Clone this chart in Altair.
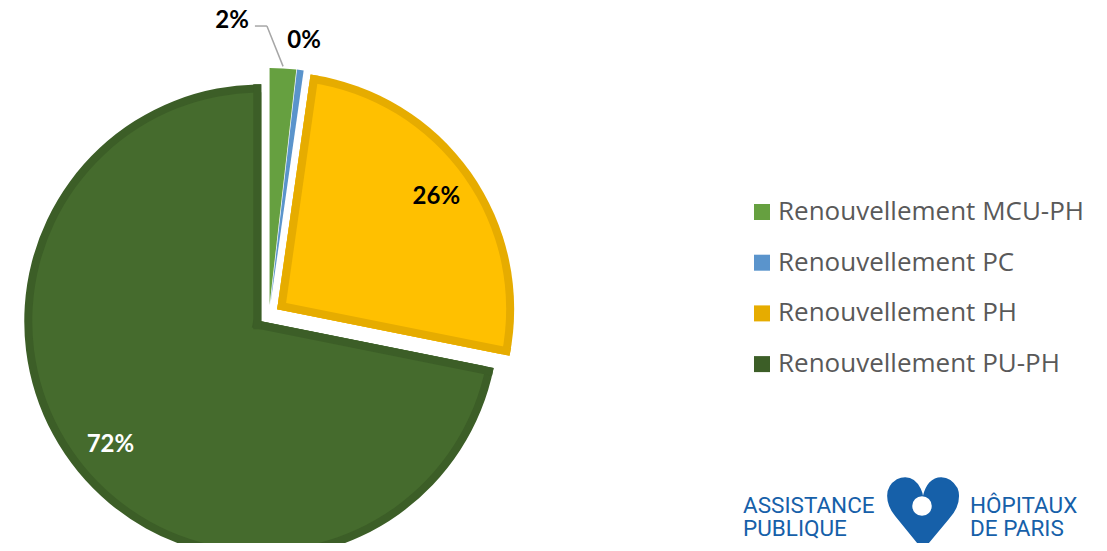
import altair as alt
import pandas as pd

# ---------------- data ----------------
categories = ["Renouvellement MCU-PH", "Renouvellement PC",
              "Renouvellement PH", "Renouvellement PU-PH"]
shares = [1.8, 0.45, 25.9, 71.85]          # percent
order = [0, 1, 2, 3]
fill_colors = ["#70AD47", "#5B9BD5", "#FFC000", "#456B2D"]
border_colors = ["#66A040", "#5A94CC", "#E6AC00", "#3C5E27"]
logo_left = ["ASSISTANCE", "PUBLIQUE"]
logo_right = ["HÔPITAUX", "DE PARIS"]

df = pd.DataFrame({"cat": categories, "value": shares, "idx": order})

# ---------------- layout constants ----------------
CX, CY = 261, 307      # pie centre (chart px)
EXPLODE = 10
R = 237
W = 8
LABEL_R_IN = 195
LOGO_BLUE = "#1660A9"

base = (
    alt.Chart(df)
    .transform_window(cum="sum(value)", sort=[alt.SortField("idx")], frame=[None, 0])
    .transform_joinaggregate(total="sum(value)")
    .transform_calculate(
        t0="2*PI*(datum.cum - datum.value)/datum.total",
        t1="2*PI*datum.cum/datum.total",
        pct="datum.value/datum.total",
    )
    .transform_calculate(mid="(datum.t0 + datum.t1)/2", span="datum.t1 - datum.t0")
    .transform_calculate(
        cx=f"{CX} + {EXPLODE}*sin(datum.mid)",
        cy=f"{CY} - {EXPLODE}*cos(datum.mid)",
    )
)

X = alt.X("cx:Q", scale=None, axis=None)
Y = alt.Y("cy:Q", scale=None, axis=None)

outer = base.mark_arc(radius=R).encode(
    x=X, y=Y,
    theta=alt.Theta("t0:Q", scale=None),
    theta2="t1:Q",
    color=alt.Color(
        "cat:N",
        scale=alt.Scale(domain=categories, range=border_colors),
        legend=alt.Legend(
            title=None, orient="none", legendX=741, legendY=191,
            symbolType="square", symbolSize=256, symbolStrokeWidth=0,
            symbolOpacity=1, labelFont="Open Sans", labelFontSize=26,
            labelColor="#595959", rowPadding=24.7, labelOffset=3, labelLimit=500,
        ),
    ),
)

inner = base.transform_filter("datum.pct >= 0.05").mark_arc(radius=R - W).encode(
    x=X, y=Y,
    theta=alt.Theta("t0:Q", scale=None),
    theta2="t1:Q",
    fill=alt.Fill("cat:N", scale=alt.Scale(domain=categories, range=fill_colors), legend=None),
)

bands = (
    base.transform_filter("datum.pct >= 0.05")
    .transform_fold(["t0", "t1"], as_=["edge", "a"])
    .transform_calculate(
        sgn="datum.edge == 't0' ? 1 : -1",
        s0=f"datum.span > PI ? {-W} : 0",
    )
    .transform_calculate(
        nx=f"{W / 2}*sin(datum.a + datum.sgn*PI/2)",
        ny=f"-{W / 2}*cos(datum.a + datum.sgn*PI/2)",
    )
    .transform_calculate(
        bx="datum.cx + datum.s0*sin(datum.a) + datum.nx",
        by="datum.cy - datum.s0*cos(datum.a) + datum.ny",
        bx2=f"datum.cx + {R}*sin(datum.a) + datum.nx",
        by2=f"datum.cy - {R}*cos(datum.a) + datum.ny",
    )
    .mark_rule(strokeWidth=W, strokeCap="butt")
    .encode(
        x=alt.X("bx:Q", scale=None, axis=None),
        y=alt.Y("by:Q", scale=None, axis=None),
        x2="bx2:Q", y2="by2:Q",
        stroke=alt.Stroke("cat:N", scale=alt.Scale(domain=categories, range=border_colors), legend=None),
    )
)

labels = (
    base.transform_calculate(
        lt="datum.mid + (datum.idx == 0 ? -0.188 : 0)",
        lr=f"datum.pct >= 0.05 ? {LABEL_R_IN} : (datum.idx == 0 ? 286 : 266)",
    )
    .mark_text(font="Lato", fontWeight="bold", fontSize=24, baseline="middle", align="center")
    .encode(
        x=X, y=Y,
        theta=alt.Theta("lt:Q", scale=None),
        radius=alt.Radius("lr:Q", scale=None),
        text=alt.Text("pct:Q", format=".0%"),
        color=alt.condition("datum.pct > 0.5", alt.value("white"), alt.value("black")),
    )
)

leader_geo = base.transform_filter("datum.idx == 0").transform_calculate(
    ax="datum.cx + 239*sin(datum.mid)",
    ay="datum.cy - 239*cos(datum.mid)",
    px="datum.cx + 279*sin(datum.mid - 0.066)",
    py="datum.cy - 279*cos(datum.mid - 0.066)",
).transform_calculate(qx="datum.px - 12")

leader1 = leader_geo.mark_rule(color="#A6A6A6", strokeWidth=1.5).encode(
    x=alt.X("ax:Q", scale=None, axis=None), y=alt.Y("ay:Q", scale=None, axis=None),
    x2="px:Q", y2="py:Q",
)
leader2 = leader_geo.mark_rule(color="#A6A6A6", strokeWidth=1.5).encode(
    x=alt.X("px:Q", scale=None, axis=None), y=alt.Y("py:Q", scale=None, axis=None),
    x2="qx:Q", y2="py:Q",
)

# ---------------- logo ----------------
def logo_text(txt, x, y):
    return alt.Chart(alt.Data(values=[{"t": txt}])).mark_text(
        font="Roboto", fontSize=22.5, color=LOGO_BLUE,
        align="left", baseline="alphabetic",
    ).encode(text="t:N", x=alt.value(x), y=alt.value(y))

logo = [
    logo_text(logo_left[0], 735, 505),
    logo_text(logo_left[1], 735, 528),
    logo_text(logo_right[0], 962, 505),
    logo_text(logo_right[1], 962, 528),
]
heart = alt.Chart(alt.Data(values=[{"t": "♥"}])).mark_text(
    font="DejaVu Sans", fontSize=100, color=LOGO_BLUE, align="center", baseline="middle",
).encode(text="t:N", x=alt.value(915), y=alt.value(512))
dove = alt.Chart(alt.Data(values=[{"t": "o"}])).mark_point(
    filled=True, color="white", opacity=1, size=380, shape="circle",
).encode(x=alt.value(914), y=alt.value(498))
uline1 = alt.Chart(alt.Data(values=[{"t": 1}])).mark_rule(color=LOGO_BLUE, strokeWidth=1.5).encode(
    x=alt.value(735), x2=alt.value(904), y=alt.value(538))
uline2 = alt.Chart(alt.Data(values=[{"t": 1}])).mark_rule(color=LOGO_BLUE, strokeWidth=1.5).encode(
    x=alt.value(927), x2=alt.value(1095), y=alt.value(538))

chart = (
    alt.layer(outer, inner, bands, labels, leader1, leader2, *logo, heart, dove, uline1, uline2)
    .properties(width=1091, height=535, padding=0, autosize=alt.AutoSizeParams(type="none"))
    .configure_view(stroke=None)
)

chart.save("out.html", embed_options={"renderer": "svg", "actions": False})
